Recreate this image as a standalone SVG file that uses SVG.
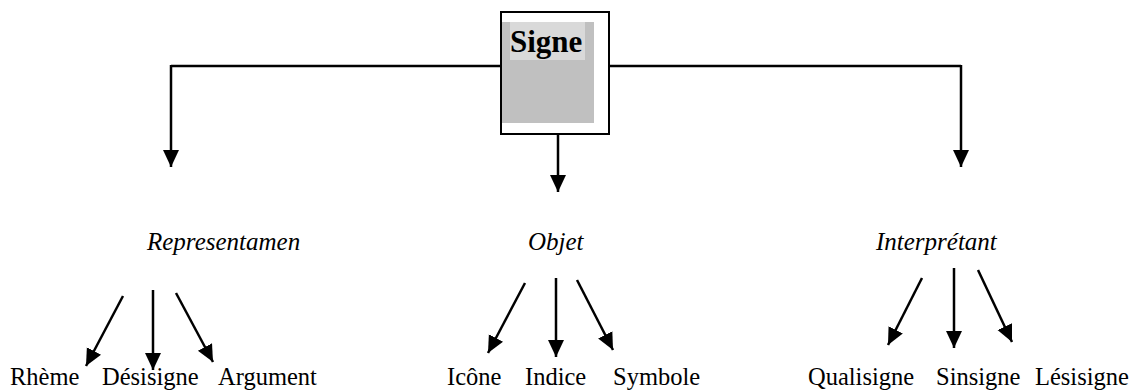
<svg xmlns="http://www.w3.org/2000/svg" width="1129" height="391" viewBox="0 0 1129 391">
  <style>
    .line { fill: none; stroke: #000; stroke-width: 2.5; }
    .arrow { fill: none; stroke: #000; stroke-width: 2.5; marker-end: url(#head); }
    .cat { font-family: "Liberation Serif", "Times New Roman", serif; font-style: italic; font-size: 25px; fill: #000; }
    .leaf { font-family: "Liberation Serif", "Times New Roman", serif; font-size: 24.5px; fill: #000; }
    .title { font-family: "Liberation Serif", "Times New Roman", serif; font-weight: bold; font-size: 31px; fill: #000; }
  </style>
  <defs>
    <!-- solid triangular arrowhead, tip at the end of the line -->
    <marker id="head" markerUnits="userSpaceOnUse" markerWidth="18" markerHeight="18" viewBox="0 0 18 18" refX="17" refY="9" orient="auto">
      <path d="M0,1 L17,9 L0,17 Z" fill="#000"/>
    </marker>
  </defs>
  <rect width="1129" height="391" fill="#fff"/>

  <!-- root sign box -->
  <g id="signe">
    <rect x="501" y="12" width="108" height="122" fill="#fff" stroke="#000" stroke-width="2"/>
    <rect x="502" y="22" width="92" height="101" fill="#c0c0c0"/>
    <rect x="510" y="22" width="75" height="38" fill="#d9d9d9"/>
    <text class="title" x="510" y="52">Signe</text>
  </g>

  <!-- connectors -->
  <g id="connectors">
    <polyline class="line" points="501,66 171,66"/>
    <polyline class="line" points="609,66 961,66"/>
    <line class="arrow" x1="171" y1="65" x2="171" y2="167"/>
    <line class="arrow" x1="961" y1="65" x2="961" y2="167"/>
    <line class="arrow" x1="558" y1="134" x2="558" y2="192"/>

    <line class="arrow" x1="123" y1="296" x2="86" y2="366"/>
    <line class="arrow" x1="153" y1="290" x2="153" y2="370"/>
    <line class="arrow" x1="176" y1="293" x2="213" y2="362"/>

    <line class="arrow" x1="525" y1="283" x2="488" y2="353"/>
    <line class="arrow" x1="556" y1="278" x2="556" y2="357"/>
    <line class="arrow" x1="577" y1="280" x2="613" y2="350"/>

    <line class="arrow" x1="922" y1="278" x2="888" y2="345"/>
    <line class="arrow" x1="954" y1="268" x2="954" y2="348"/>
    <line class="arrow" x1="978" y1="270" x2="1012" y2="342"/>
  </g>

  <!-- categories -->
  <g id="representamen">
    <text class="cat" x="147" y="250">Representamen</text>
  </g>
  <g id="objet">
    <text class="cat" x="528" y="250">Objet</text>
  </g>
  <g id="interpretant">
    <text class="cat" x="876" y="250">Interprétant</text>
  </g>

  <!-- subdivisions -->
  <g id="rheme"><text class="leaf" x="10" y="385">Rhème</text></g>
  <g id="desisigne"><text class="leaf" x="102" y="385">Désisigne</text></g>
  <g id="argument"><text class="leaf" x="218" y="385">Argument</text></g>
  <g id="icone"><text class="leaf" x="447" y="385">Icône</text></g>
  <g id="indice"><text class="leaf" x="525" y="385">Indice</text></g>
  <g id="symbole"><text class="leaf" x="613" y="385">Symbole</text></g>
  <g id="qualisigne"><text class="leaf" x="808" y="385">Qualisigne</text></g>
  <g id="sinsigne"><text class="leaf" x="936" y="385">Sinsigne</text></g>
  <g id="lesisigne"><text class="leaf" x="1035" y="385">Lésisigne</text></g>
</svg>
